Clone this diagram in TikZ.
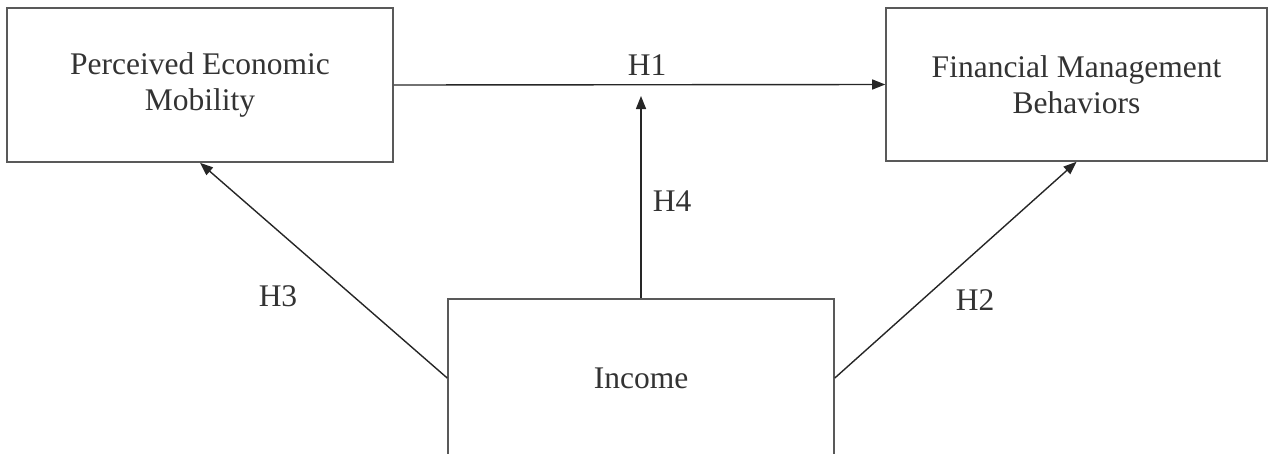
\documentclass[tikz,border=0pt]{standalone}
\usepackage{fontspec}
\setmainfont{Liberation Serif}
\usetikzlibrary{arrows.meta}
\begin{document}
\begin{tikzpicture}[x=1pt,y=-1pt,
  every node/.style={font=\fontsize{31.5}{36}\selectfont, text=black!80},
  varbox/.style={draw=black!65, line width=1.6pt, inner sep=0pt, align=center},
  link/.style={draw=black!85, line width=1.4pt, -{Triangle[length=13pt,width=10pt]}},
  hlabel/.style={inner sep=0pt}]
\useasboundingbox (0,0) rectangle (1268,453);
\node[varbox, minimum width=386pt, minimum height=154pt] (pem) at (200,85) {Perceived Economic\\Mobility};
\node[varbox, minimum width=381pt, minimum height=153pt] (fmb) at (1076.5,84.5) {Financial Management\\Behaviors};
\node[varbox, minimum width=386pt, minimum height=158pt] (inc) at (641,378) {Income};
\coordinate (h4tip) at (641,96);
\draw[link] (pem.east) -- (fmb.west);
\draw[link] (inc.north) -- (h4tip);
\draw[link] (inc.west) -- (pem.south);
\draw[link] (inc.east) -- (fmb.south);
\node[hlabel] (h1) at (647,65) {H1};
\node[hlabel] (h4) at (672,201) {H4};
\node[hlabel] (h3) at (278,296) {H3};
\node[hlabel] (h2) at (975,300) {H2};
\end{tikzpicture}
\end{document}
